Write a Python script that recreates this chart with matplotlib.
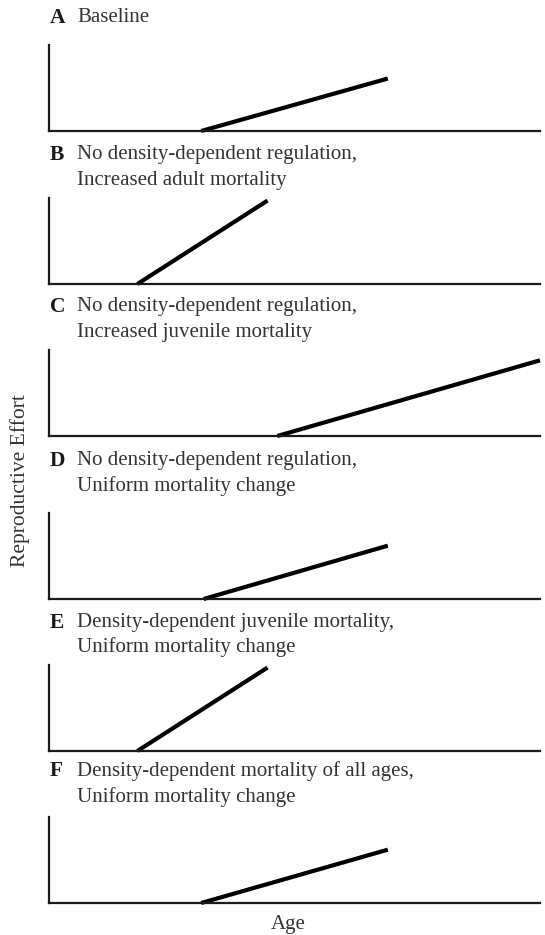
import matplotlib
matplotlib.use('Agg')
import matplotlib.pyplot as plt

plt.rcParams['font.family'] = ['Liberation Serif', 'DejaVu Serif']

# panel data: age where reproduction starts, last age drawn, effort at that age
letters = ['A', 'B', 'C', 'D', 'E', 'F']
line1 = ['Baseline',
         'No density-dependent regulation,',
         'No density-dependent regulation,',
         'No density-dependent regulation,',
         'Density-dependent juvenile mortality,',
         'Density-dependent mortality of all ages,']
line2 = ['',
         'Increased adult mortality',
         'Increased juvenile mortality',
         'Uniform mortality change',
         'Uniform mortality change',
         'Uniform mortality change']
onset = [3.1, 1.8, 4.65, 3.15, 1.8, 3.1]
end_age = [6.9, 4.45, 10.0, 6.9, 4.45, 6.9]
end_effort = [0.61, 0.97, 0.88, 0.62, 0.97, 0.62]

W, H = 545, 935
fig = plt.figure(figsize=(W / 100, H / 100), dpi=100)

# pixel layout of each panel (axes bottom y, title y's)
ax_bottom = [131, 284, 436, 599, 751, 903]
ax_h = 86
title_y = [(18, None), (155, 180), (307, 332), (461, 486), (623, 647), (771, 797)]
x0, x1 = 49, 540

for i in range(6):
    b = ax_bottom[i]
    ax = fig.add_axes([x0 / W, 1 - b / H, (x1 - x0) / W, ax_h / H])
    ax.plot([onset[i], end_age[i]], [0, end_effort[i]], color='black',
            lw=3.0, solid_capstyle='butt', clip_on=False)
    ax.set_xlim(0, 10)
    ax.set_ylim(0, 1)
    ax.set_xticks([])
    ax.set_yticks([])
    for s in ['top', 'right']:
        ax.spines[s].set_visible(False)
    for s in ['left', 'bottom']:
        ax.spines[s].set_linewidth(1.6)
        ax.spines[s].set_color('#1a1a1a')

    ty1, ty2 = title_y[i]
    fig.text(50 / W, 1 - ty1 / H, letters[i], fontsize=15.5, fontweight='bold',
             va='center', ha='left', color='#1a1a1a')
    fig.text(77 / W, 1 - ty1 / H, line1[i], fontsize=15,
             va='center', ha='left', color='#333333')
    if ty2:
        fig.text(77 / W, 1 - ty2 / H, line2[i], fontsize=15,
                 va='center', ha='left', color='#333333')

fig.text(20 / W, 1 - 481 / H, 'Reproductive Effort', fontsize=15.5,
         rotation=90, va='center', ha='center', color='#333333')
fig.text(288 / W, 1 - 924 / H, 'Age', fontsize=15,
         va='center', ha='center', color='#333333')

fig.savefig('out.png', dpi=100)
